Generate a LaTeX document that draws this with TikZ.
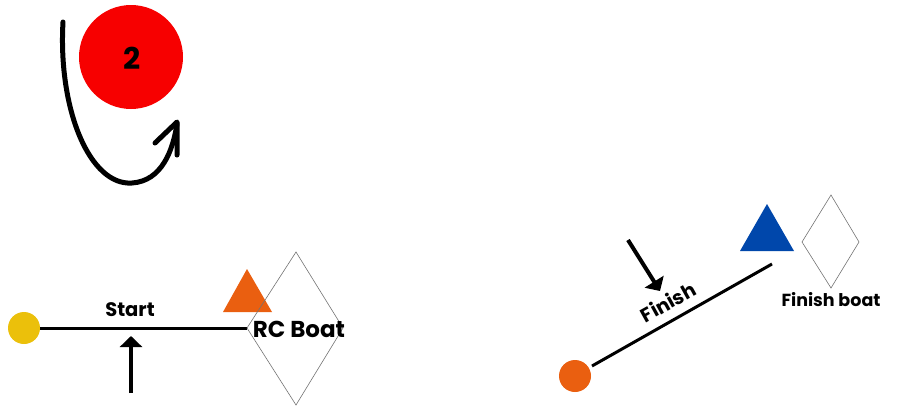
\documentclass[tikz,border=0pt]{standalone}
\usepackage{fontspec}
\setmainfont{Poppins}
\usetikzlibrary{arrows.meta}
\definecolor{markred}{HTML}{F70000}
\definecolor{markyellow}{HTML}{EBC00B}
\definecolor{markorange}{HTML}{EA5F10}
\definecolor{markblue}{HTML}{0047AB}
\tikzset{
  lbl/.style={font=\bfseries, text=black, inner sep=0pt},
  boat/.style={draw=black!55, line width=0.6pt, fill=none},
  course/.style={draw=black, line width=3pt},
  thickarrow/.style={draw=black, line width=4pt, -{Triangle[length=11pt,width=22pt]}},
}
\begin{document}
\begin{tikzpicture}[x=1pt,y=-1pt]
\useasboundingbox (0,0) rectangle (900,407);
% rounding mark
\fill[markred] (131,57) circle (52);
\node[lbl, font=\fontsize{30}{32}\selectfont\bfseries] (two) at (132,58) {2};
\draw[black, line width=5pt, line cap=round] (63,22) .. controls (58,110) and (90,186) .. (132,183) .. controls (162,181) and (173,150) .. (177,124);
\draw[black, line width=5pt, line cap=round, line join=round] (155,143) -- (177,122) -- (177,155);

% start line
\coordinate (pin) at (24,328);
\coordinate (rc) at (247,328);
\draw[course] (pin) -- (rc);
\fill[markyellow] (pin) circle (16);
\node[lbl, font=\fontsize{19.5}{21}\selectfont\bfseries] (start) at (130,310) {Start};
\coordinate (sa) at (131,393);
\coordinate (sb) at (131,336);
\draw[thickarrow] (sa) -- (sb);
\fill[markorange] (223,312) -- (272,312) -- (247,269) -- cycle;
\draw[boat] (296,252) -- (343,328) -- (296,405) -- (247,328) -- cycle;
\node[lbl, font=\fontsize{23}{25}\selectfont\bfseries] (rcboat) at (299,329) {RC Boat};

% finish line
\coordinate (fpin) at (575,376);
\coordinate (fend) at (772,264);
\draw[course] (592,366) -- (fend);
\fill[markorange] (fpin) circle (16);
\node[lbl, font=\fontsize{19.5}{21}\selectfont\bfseries, rotate=29] (finish) at (668,302) {Finish};
\coordinate (fa) at (628,240);
\coordinate (fb) at (660,291);
\draw[thickarrow] (fa) -- (fb);
\fill[markblue] (740,251) -- (794,251) -- (767,204) -- cycle;
\draw[boat] (831,195) -- (859,242) -- (831,288) -- (802,242) -- cycle;
\node[lbl, font=\fontsize{17.5}{19}\selectfont\bfseries] (fboat) at (831,300) {Finish boat};
\end{tikzpicture}
\end{document}
